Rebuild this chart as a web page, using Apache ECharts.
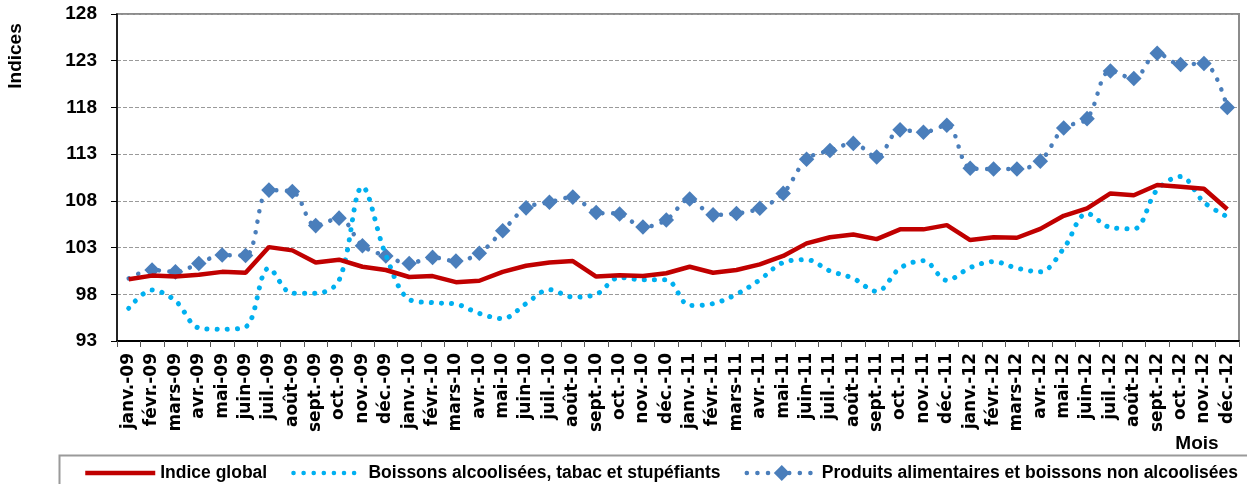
<!DOCTYPE html>
<html>
<head>
<meta charset="utf-8">
<script src="https://cdn.jsdelivr.net/npm/echarts@6/dist/echarts.min.js"></script>
<style>
    html, body { margin: 0; padding: 0; background: #fff; }
    #chart { width: 1247px; height: 484px; }
</style>
</head>
<body>
<div id="chart"></div>
<script>
// mois (axe des abscisses)
var months = [
    'janv.-09', 'févr.-09', 'mars-09', 'avr.-09', 'mai-09', 'juin-09', 'juil.-09', 'août-09', 'sept.-09', 'oct.-09', 'nov.-09', 'déc.-09',
    'janv.-10', 'févr.-10', 'mars-10', 'avr.-10', 'mai-10', 'juin-10', 'juil.-10', 'août-10', 'sept.-10', 'oct.-10', 'nov.-10', 'déc.-10',
    'janv.-11', 'févr.-11', 'mars-11', 'avr.-11', 'mai-11', 'juin-11', 'juil.-11', 'août-11', 'sept.-11', 'oct.-11', 'nov.-11', 'déc.-11',
    'janv.-12', 'févr.-12', 'mars-12', 'avr.-12', 'mai-12', 'juin-12', 'juil.-12', 'août-12', 'sept.-12', 'oct.-12', 'nov.-12', 'déc.-12'
];

var seriesNames = [
    'Indice global',
    'Boissons alcoolisées, tabac et stupéfiants',
    'Produits alimentaires et boissons non alcoolisées'
];

// Indice global
var indiceGlobal = [
    99.6, 100.0, 99.9, 100.1, 100.4, 100.3, 103.05, 102.7, 101.4, 101.7, 100.95, 100.6,
    99.85, 99.95, 99.3, 99.45, 100.4, 101.05, 101.4, 101.55, 99.9, 100.05, 99.95, 100.25,
    100.95, 100.3, 100.6, 101.2, 102.1, 103.45, 104.1, 104.4, 103.9, 104.95, 104.95, 105.4,
    103.8, 104.1, 104.05, 105.0, 106.4, 107.2, 108.8, 108.6, 109.7, 109.5, 109.3, 107.1
];

// Boissons alcoolisées, tabac et stupéfiants
var boissonsAlcool = [
    96.5, 98.45, 97.3, 94.4, 94.25, 94.5, 100.8, 98.1, 98.1, 99.5, 109.5, 102.2,
    97.45, 97.1, 96.95, 95.95, 95.4, 97.0, 98.5, 97.7, 98.0, 99.8, 99.55, 99.55,
    96.8, 97.0, 98.0, 99.55, 101.4, 101.7, 100.5, 99.7, 98.3, 100.8, 101.6, 99.5,
    100.85, 101.5, 100.8, 100.4, 102.9, 106.65, 105.15, 105.0, 109.2, 110.6, 107.85, 106.3
];

// Produits alimentaires et boissons non alcoolisées
var produitsAlim = [
    99.7, 100.6, 100.4, 101.3, 102.2, 102.15, 109.15, 109.0, 105.35, 106.15, 103.2, 102.1,
    101.3, 101.95, 101.55, 102.4, 104.8, 107.25, 107.85, 108.4, 106.75, 106.6, 105.2, 105.95,
    108.2, 106.5, 106.65, 107.2, 108.8, 112.45, 113.4, 114.15, 112.7, 115.6, 115.35, 116.1,
    111.5, 111.4, 111.4, 112.25, 115.8, 116.8, 121.9, 121.1, 123.8, 122.6, 122.7, 118.0
];

function RefreshIndexChart() {
    var myChart = echarts.init(document.getElementById('chart'));

    var option = {
        backgroundColor: '#ffffff',
        animation: false,
        grid: {
            left: 117,
            right: 8,
            top: 14,
            bottom: 143,
            show: true,
            borderColor: '#8c8c8c',
            borderWidth: 2
        },
        legend: {
            left: 78,
            top: 459,
            itemWidth: 70,
            itemHeight: 14,
            itemGap: 24,
            // pas de symbole pour les deux premières séries
            data: [
                { name: seriesNames[0], itemStyle: { opacity: 0 } },
                { name: seriesNames[1], itemStyle: { opacity: 0 } },
                { name: seriesNames[2] }
            ],
            lineStyle: { width: 4.5 },
            textStyle: {
                fontFamily: 'Liberation Sans, Arial, sans-serif',
                fontWeight: 'bold',
                fontSize: 17.5,
                color: '#000'
            }
        },
        graphic: [
            // cadre de la légende
            {
                type: 'rect',
                left: 57,
                top: 453,
                shape: { width: 1200, height: 40 },
                style: { fill: 'none', stroke: '#9a9a9a', lineWidth: 2 },
                z: -1
            },
            {
                type: 'text',
                x: 16,
                y: 56,
                rotation: Math.PI / 2,
                style: {
                    text: 'Indices',
                    fontFamily: 'Liberation Sans, Arial, sans-serif',
                    fontWeight: 'bold',
                    fontSize: 19,
                    fill: '#000',
                    align: 'center',
                    verticalAlign: 'middle'
                }
            },
            {
                type: 'text',
                x: 1197,
                y: 444,
                style: {
                    text: 'Mois',
                    fontFamily: 'Liberation Sans, Arial, sans-serif',
                    fontWeight: 'bold',
                    fontSize: 19,
                    fill: '#000',
                    align: 'center',
                    verticalAlign: 'middle'
                }
            }
        ],
        xAxis: {
            type: 'category',
            data: months,
            boundaryGap: true,
            axisLine: { lineStyle: { color: '#000', width: 2 } },
            axisTick: { show: true, length: 6, lineStyle: { color: '#555' } },
            axisLabel: {
                rotate: 90,
                interval: 0,
                margin: 12,
                fontFamily: 'DejaVu Sans, sans-serif',
                fontWeight: 'bold',
                fontSize: 17,
                color: '#000'
            },
            splitLine: { show: false }
        },
        yAxis: {
            type: 'value',
            min: 93,
            max: 128,
            interval: 5,
            axisLine: { show: true, lineStyle: { color: '#000', width: 1.5 } },
            axisTick: { show: true, length: 6, lineStyle: { color: '#000' } },
            axisLabel: {
                margin: 20,
                fontFamily: 'Liberation Sans, Arial, sans-serif',
                fontWeight: 'bold',
                fontSize: 19,
                color: '#000'
            },
            splitLine: {
                show: true,
                lineStyle: { color: '#9a9a9a', type: 'dashed', width: 1 }
            }
        },
        series: [
            {
                name: seriesNames[0],
                type: 'line',
                data: indiceGlobal,
                symbol: 'none',
                color: '#C00000',
                lineStyle: { color: '#C00000', width: 4.5 },
                z: 4
            },
            {
                name: seriesNames[1],
                type: 'line',
                data: boissonsAlcool,
                smooth: 0.35,
                symbol: 'none',
                color: '#00B0F0',
                lineStyle: { color: '#00B0F0', width: 5, type: [0.1, 10], cap: 'round' },
                z: 3
            },
            {
                name: seriesNames[2],
                type: 'line',
                // pas de marqueur sur le premier mois
                data: produitsAlim.map(function (v, i) {
                    return i === 0 ? { value: v, symbol: 'none' } : v;
                }),
                smooth: 0.35,
                symbol: 'rect',
                symbolSize: 11,
                symbolRotate: 45,
                color: '#4A7EBB',
                itemStyle: { color: '#4A7EBB' },
                lineStyle: { color: '#4A7EBB', width: 4.5, type: [0.1, 10.5], cap: 'round' },
                z: 2
            }
        ]
    };

    myChart.setOption(option);
}

RefreshIndexChart();
</script>
</body>
</html>
